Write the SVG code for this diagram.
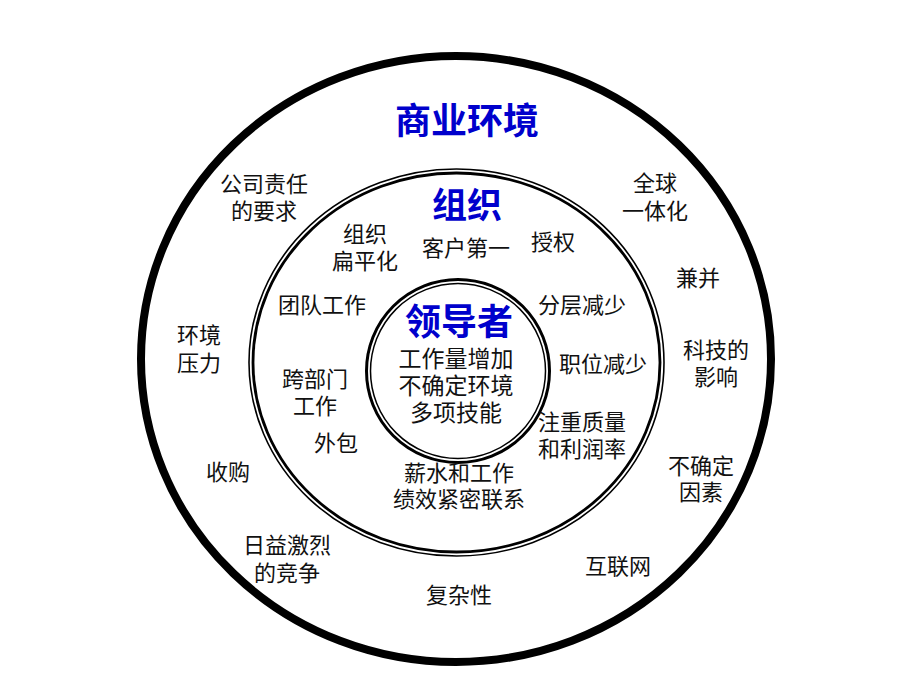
<svg xmlns="http://www.w3.org/2000/svg" width="920" height="690" viewBox="0 0 920 690">
<style>
.t{font-family:"Noto Sans CJK SC","Noto Sans CJK JP",sans-serif;font-size:22px;fill:#111;text-anchor:middle}
.c{font-size:23px}
.h{font-family:"Noto Sans CJK SC","Noto Sans CJK JP",sans-serif;font-weight:bold;fill:#0000CC;text-anchor:middle}
.ring{fill:none;stroke:#000}
</style>
<rect width="920" height="690" fill="#fff"/>
<g id="business-environment">
  <ellipse class="ring" cx="456" cy="359" rx="315" ry="303" stroke-width="8"/>
  <text class="h" x="467" y="134" font-size="36">商业环境</text>
</g>
<g id="organization">
  <ellipse class="ring" cx="456.5" cy="362.5" rx="207.5" ry="193.5" stroke-width="1.6"/>
  <ellipse class="ring" cx="456.5" cy="362.5" rx="203.5" ry="189.5" stroke-width="2.8"/>
  <text class="h" x="467" y="218" font-size="35">组织</text>
</g>
<g id="leader">
  <circle class="ring" cx="458" cy="371" r="91.5" stroke-width="3"/>
  <circle class="ring" cx="458" cy="371" r="87.5" stroke-width="1.5"/>
  <text class="h" x="459" y="335" font-size="36">领导者</text>
  <text class="t c" x="456" y="366.5">工作量增加<tspan x="456" dy="27">不确定环境</tspan><tspan x="456" dy="27">多项技能</tspan></text>
</g>
<g id="env-labels">
  <g id="n-csr"><text class="t" x="264" y="192">公司责任<tspan x="264" dy="27">的要求</tspan></text></g>
  <g id="n-global"><text class="t" x="655" y="191">全球<tspan x="655" dy="28">一体化</tspan></text></g>
  <g id="n-merger"><text class="t" x="698" y="286">兼并</text></g>
  <g id="n-pressure"><text class="t" x="199" y="343">环境<tspan x="199" dy="28">压力</tspan></text></g>
  <g id="n-tech"><text class="t" x="716" y="358">科技的<tspan x="716" dy="27">影响</tspan></text></g>
  <g id="n-acq"><text class="t" x="228" y="480">收购</text></g>
  <g id="n-uncertain"><text class="t" x="701" y="474">不确定<tspan x="701" dy="26">因素</tspan></text></g>
  <g id="n-competition"><text class="t" x="287" y="553">日益激烈<tspan x="287" dy="27.5">的竞争</tspan></text></g>
  <g id="n-internet"><text class="t" x="618" y="574">互联网</text></g>
  <g id="n-complexity"><text class="t" x="459" y="603">复杂性</text></g>
</g>
<g id="org-labels">
  <g id="n-flat"><text class="t" x="365" y="242">组织<tspan x="365" dy="27">扁平化</tspan></text></g>
  <g id="n-customer"><text class="t" x="466" y="256">客户第一</text></g>
  <g id="n-empower"><text class="t" x="553" y="250">授权</text></g>
  <g id="n-team"><text class="t" x="322" y="313">团队工作</text></g>
  <g id="n-layers"><text class="t" x="582" y="313">分层减少</text></g>
  <g id="n-positions"><text class="t" x="603" y="372">职位减少</text></g>
  <g id="n-cross"><text class="t" x="315" y="387">跨部门<tspan x="315" dy="26.5">工作</tspan></text></g>
  <g id="n-quality"><text class="t" x="582" y="429.5">注重质量<tspan x="582" dy="27.5">和利润率</tspan></text></g>
  <g id="n-outsource"><text class="t" x="336" y="451">外包</text></g>
  <g id="n-pay"><text class="t" x="459" y="480.5">薪水和工作<tspan x="459" dy="26.5">绩效紧密联系</tspan></text></g>
</g>
</svg>
